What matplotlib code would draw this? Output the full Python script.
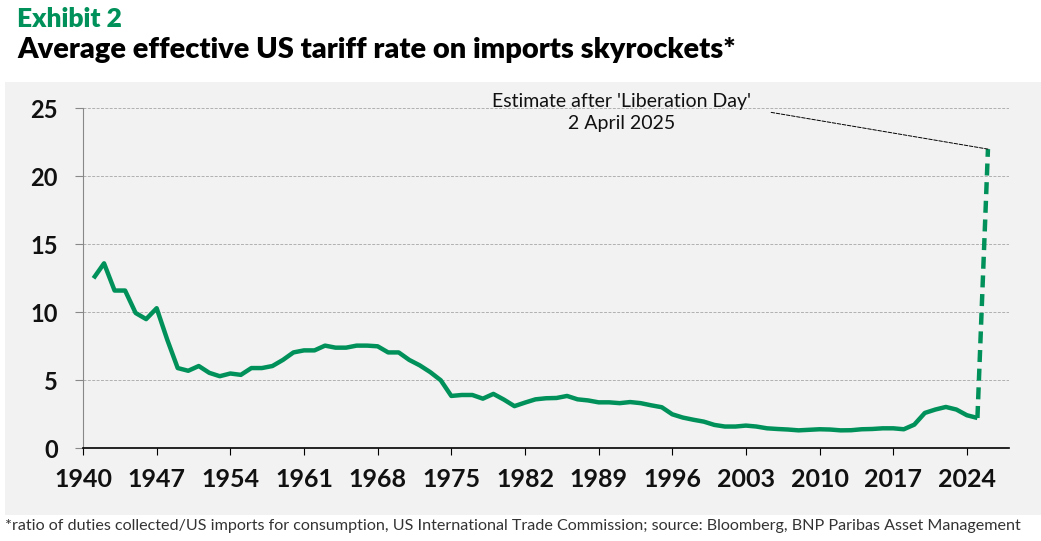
import matplotlib.pyplot as plt
from matplotlib.patches import Rectangle

# average effective US tariff rate (%), annual
years = list(range(1941, 2026))
tariff = [
    12.5, 13.6, 11.6, 11.6, 9.95, 9.5, 10.3, 8.0, 5.9, 5.7,          # 1941-1950
    6.05, 5.55, 5.3, 5.5, 5.4, 5.9, 5.9, 6.05, 6.5, 7.05,           # 1951-1960
    7.2, 7.2, 7.55, 7.4, 7.4, 7.55, 7.55, 7.5, 7.05, 7.05,          # 1961-1970
    6.5, 6.1, 5.6, 5.0, 3.85, 3.92, 3.92, 3.65, 4.0, 3.58,          # 1971-1980
    3.1, 3.36, 3.6, 3.68, 3.7, 3.85, 3.6, 3.52, 3.38, 3.38,         # 1981-1990
    3.32, 3.4, 3.32, 3.16, 3.02, 2.5, 2.26, 2.1, 1.96, 1.72,        # 1991-2000
    1.6, 1.6, 1.67, 1.6, 1.47, 1.42, 1.38, 1.32, 1.36, 1.4,         # 2001-2010
    1.38, 1.32, 1.33, 1.4, 1.42, 1.47, 1.47, 1.4, 1.74, 2.6,        # 2011-2020
    2.85, 3.04, 2.85, 2.43, 2.23,                                   # 2021-2025
]
estimate_year = 2026
estimate_value = 22.0

x_ticks = list(range(1940, 2025, 7))
y_ticks = [0, 5, 10, 15, 20, 25]

green = "#00915A"
panel = "#F2F2F2"
W, H = 1041, 541

plt.rcParams["font.family"] = ["Lato", "DejaVu Sans"]

fig = plt.figure(figsize=(W / 100, H / 100), dpi=100)
fig.add_artist(Rectangle((5 / W, 1 - 515 / H), (W - 5) / W, (515 - 82) / H,
                         transform=fig.transFigure, facecolor=panel,
                         edgecolor="none", zorder=0))

ax = fig.add_axes([83 / W, 1 - 448.3 / H, (1009 - 83) / W, (448.3 - 108.3) / H])
ax.set_facecolor("none")

ax.plot(years, tariff, color=green, lw=3.2, solid_capstyle="butt", zorder=3)
ax.plot([years[-1], estimate_year], [tariff[-1], estimate_value], color=green,
        lw=3.2, ls=(0, (2.7, 1.5)), zorder=3)

ax.annotate("", xy=(estimate_year, estimate_value), xytext=(2005.4, 24.7),
            arrowprops=dict(arrowstyle="-", ls="--", lw=0.7, color="black",
                            shrinkA=0, shrinkB=0), annotation_clip=False)
ax.text(1991.2, 24.7, "Estimate after 'Liberation Day'\n2 April 2025",
        ha="center", va="center", fontsize=14, linespacing=1.32,
        color="#111111", clip_on=False)

ax.set_xlim(1940, 2028)
ax.set_ylim(0, 25)
ax.set_xticks(x_ticks)
ax.set_yticks(y_ticks)
ax.grid(axis="y", ls=(0, (3, 1.5)), lw=0.7, color="#b0b0b0")
ax.set_axisbelow(True)

for s in ["top", "right"]:
    ax.spines[s].set_visible(False)
ax.spines["left"].set_color("#888888")
ax.spines["bottom"].set_color("black")
ax.spines["bottom"].set_linewidth(1.2)

ax.tick_params(axis="y", length=6, color="#888888", pad=12, labelsize=17)
ax.tick_params(axis="x", length=5, color="black", pad=9, labelsize=18)
for lab in ax.get_xticklabels() + ax.get_yticklabels():
    lab.set_fontweight("bold")
    lab.set_color("#111111")

fig.text(17 / W, 1 - 27 / H, "Exhibit 2", color=green, fontsize=19,
         fontweight="heavy", va="baseline")
fig.text(17 / W, 1 - 58 / H, "Average effective US tariff rate on imports skyrockets*",
         color="black", fontsize=20.9, fontweight="heavy", va="baseline")
fig.text(5 / W, 1 - 530 / H,
         "*ratio of duties collected/US imports for consumption, US International Trade "
         "Commission; source: Bloomberg, BNP Paribas Asset Management",
         color="#333333", fontsize=11.6, va="baseline")

fig.savefig("out.png", dpi=100)
